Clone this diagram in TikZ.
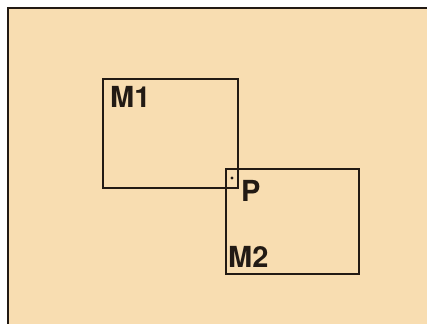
\documentclass[tikz,border=0pt]{standalone}
\usepackage{fontspec}
\setmainfont{TeX Gyre Heros}
\definecolor{paper}{RGB}{248,221,177}
\definecolor{ink}{RGB}{34,26,20}
\begin{document}
\begin{tikzpicture}[x=1pt,y=-1pt,
  lbl/.style={inner sep=0pt,text=ink,font=\fontsize{29}{29}\selectfont\bfseries},
  win/.style={draw=ink,line width=2.4pt}]
\useasboundingbox (0,0) rectangle (427,323);
% sheet with its frame running off the right and bottom edges
\fill[white] (0,0) rectangle (427,323);
\fill[paper] (8,8) rectangle (430,330);
\draw[ink,line width=2.8pt] (8,330) -- (8,8) -- (430,8);
% the two overlapping windows
\draw[win] (103,79) rectangle (238,188);
\draw[win] (226,169) rectangle (359,274);
\coordinate (pt) at (232,178);
\fill[ink] (pt) circle (1.7pt);
\node[lbl,anchor=north west] (m1) at (110,86) {M1};
\node[lbl,anchor=north west] (p) at (241,180) {P};
\node[lbl,anchor=south west] (m2) at (228,268) {M2};
\end{tikzpicture}
\end{document}
